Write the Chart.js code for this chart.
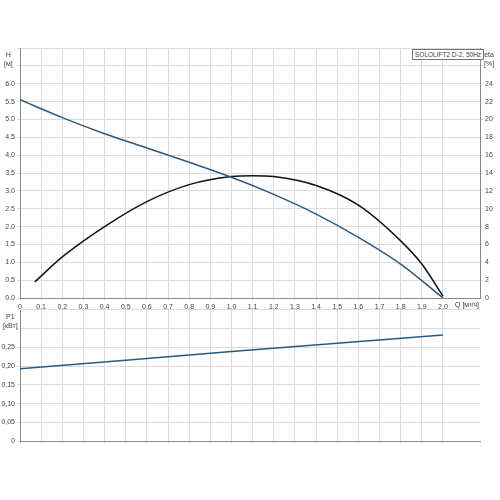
<!DOCTYPE html>
<html>
<head>
<meta charset="utf-8">
<script src="https://cdn.jsdelivr.net/npm/chart.js@4"></script>
<style>
  body { margin: 0; background: #fff; font-family: "Liberation Sans", Arial, sans-serif; }
  #wrap { position: relative; width: 500px; height: 500px; }
  canvas { position: absolute; left: 0; }
  .lbl { position: absolute; font-size: 7px; color: #444; text-align: center; line-height: 9px; }
  #legend { position: absolute; left: 412px; top: 49px; border: 1px solid #777; font-size: 6.5px; color: #444; padding: 1px 2px; background: #fff; white-space: nowrap; }
</style>
</head>
<body>
<div id="wrap">
  <canvas id="topChart" width="500" height="330" style="top:0"></canvas>
  <canvas id="botChart" width="500" height="200" style="top:300px"></canvas>
  <div class="lbl" style="left:4px;top:50px">H<br>[м]</div>
  <div class="lbl" style="left:484px;top:50px">eta<br>[%]</div>
  <div class="lbl" style="left:455px;top:300px">Q [м³/ч]</div>
  <div class="lbl" style="left:3px;top:312px">P1<br>[кВт]</div>
  <div id="legend">SOLOLIFT2 D-2, 50Hz</div>
</div>
<script>
// Head curve H [m]
const headQ = [0, 0.2, 0.4, 0.6, 0.8, 1.0, 1.2, 1.4, 1.6, 1.8, 2.0];
const headH = [5.55, 5.05, 4.6, 4.2, 3.8, 3.38, 2.9, 2.35, 1.7, 0.95, 0];
// Efficiency eta [%]
const etaQ = [0.07, 0.2, 0.4, 0.6, 0.8, 1.0, 1.1, 1.2, 1.4, 1.6, 1.8, 1.9, 2.0];
const etaV = [1.8, 4.6, 8.0, 10.8, 12.7, 13.6, 13.7, 13.6, 12.6, 10.4, 6.4, 3.8, 0.2];
// Power P1 [kW]
const powerQ = [0, 0.5, 1.0, 1.5, 2.0];
const powerP = [0.193, 0.216, 0.239, 0.261, 0.283];

const font = { family: "Liberation Sans", size: 7 };
const gridColor = "#dcdcdc";
const xMax = 2.175;

function pts(xs, ys) { return xs.map((x, i) => ({ x, y: ys[i] })); }
function fix(w) { return (axis) => { axis.width = w; }; }

function xAxis(showLabels) {
  return {
    type: "linear", min: 0, max: xMax,
    afterBuildTicks: (a) => { a.ticks = []; for (let i = 0; i <= 20; i++) a.ticks.push({ value: i / 10 }); },
    ticks: {
      display: showLabels, font, color: "#444", maxRotation: 0, padding: 2,
      callback: (v) => (v === 0 ? "0" : v.toFixed(1)),
    },
    grid: { color: gridColor, tickLength: 3 },
    border: { color: "#888" },
    afterFit: (a) => { a.height = showLabels ? 32 : 59; },
  };
}

Chart.defaults.animation = false;
Chart.defaults.responsive = false;

new Chart(document.getElementById("topChart"), {
  type: "line",
  data: {
    datasets: [
      { data: pts(headQ, headH), borderColor: "#2a5a82", borderWidth: 1.5, pointRadius: 0, cubicInterpolationMode: "monotone", yAxisID: "y" },
      { data: pts(etaQ, etaV), borderColor: "#111", borderWidth: 1.5, pointRadius: 0, cubicInterpolationMode: "monotone", yAxisID: "y2" },
    ],
  },
  options: {
    layout: { padding: { top: 48, left: 0, right: 0, bottom: 0 } },
    plugins: { legend: { display: false }, tooltip: { enabled: false } },
    scales: {
      x: xAxis(true),
      y: {
        min: 0, max: 7,
        ticks: { stepSize: 0.5, font, color: "#444", padding: 2, callback: (v) => (v > 6 ? "" : v.toFixed(1)) },
        grid: { color: gridColor, tickLength: 3 },
        border: { color: "#888" },
        afterFit: fix(20),
      },
      y2: {
        position: "right", min: 0, max: 28,
        ticks: { stepSize: 2, font, color: "#444", padding: 2, callback: (v) => (v > 24 ? "" : v) },
        grid: { drawOnChartArea: false, tickLength: 3 },
        border: { color: "#888" },
        afterFit: fix(20),
      },
    },
  },
});

new Chart(document.getElementById("botChart"), {
  type: "line",
  data: {
    datasets: [
      { data: pts(powerQ, powerP), borderColor: "#2a5a82", borderWidth: 1.5, pointRadius: 0, tension: 0 },
    ],
  },
  options: {
    layout: { padding: { top: 10, left: 0, right: 20, bottom: 0 } },
    plugins: { legend: { display: false }, tooltip: { enabled: false } },
    scales: {
      x: xAxis(false),
      y: {
        min: 0, max: 0.35,
        afterBuildTicks: (a) => { a.ticks = []; for (let i = 0; i <= 7; i++) a.ticks.push({ value: i * 0.05 }); },
        ticks: {
          font, color: "#444", padding: 2,
          callback: (v) => (v > 0.26 ? "" : v === 0 ? "0" : v.toFixed(2).replace(".", ",")),
        },
        grid: { color: gridColor, tickLength: 3 },
        border: { color: "#888" },
        afterFit: fix(20),
      },
    },
  },
});
</script>
</body>
</html>
